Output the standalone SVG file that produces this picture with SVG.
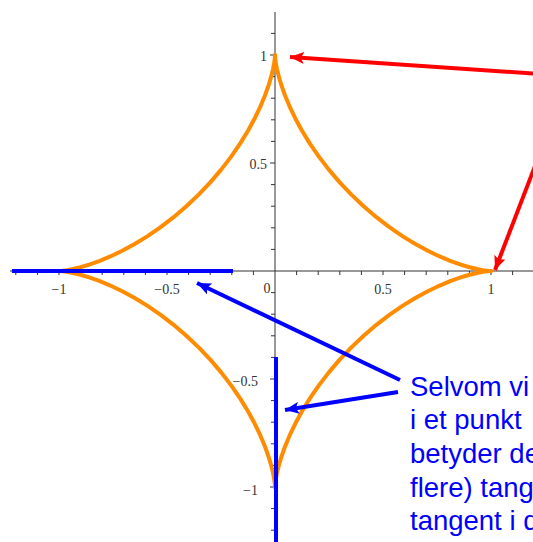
<svg xmlns="http://www.w3.org/2000/svg" width="533" height="542" viewBox="0 0 533 542">
<style>
.axis{stroke:#333;stroke-width:1;fill:none}
.tick{stroke:#333;stroke-width:1}
.lbl{font-family:"Liberation Serif","Times New Roman",serif;font-size:14px;fill:#333}
.curve{stroke:#FF8C00;stroke-width:4;fill:none;stroke-linejoin:round;stroke-linecap:round}
.blue{stroke:#0000FF;stroke-width:4;fill:none}
.red{stroke:#FF0000;stroke-width:4;fill:none}
.note{font-family:"Liberation Sans",Arial,sans-serif;font-size:27.5px;fill:#0000FF}
</style>
<defs>
<marker id="ahRed" markerUnits="userSpaceOnUse" markerWidth="16" markerHeight="12" refX="14" refY="6" orient="auto">
<path d="M0,0 L14,6 L0,12 L3,6 Z" fill="#FF0000"/>
</marker>
<marker id="ahBlue" markerUnits="userSpaceOnUse" markerWidth="16" markerHeight="12" refX="14" refY="6" orient="auto">
<path d="M0,0 L14,6 L0,12 L3,6 Z" fill="#0000FF"/>
</marker>
<path id="arc" class="curve" d="M216,0 L215.11,-0.03 L212.47,-0.25 L208.12,-0.83 L202.15,-1.94 L194.66,-3.75 L185.81,-6.37 L175.76,-9.94 L164.68,-14.53 L152.79,-20.21 L140.3,-27 L127.42,-34.9 L114.37,-43.86 L101.38,-53.83 L88.65,-64.71 L76.37,-76.37 L64.71,-88.65 L53.83,-101.38 L43.86,-114.37 L34.9,-127.42 L27,-140.3 L20.21,-152.79 L14.53,-164.68 L9.94,-175.76 L6.37,-185.81 L3.75,-194.66 L1.94,-202.15 L0.83,-208.12 L0.25,-212.47 L0.03,-215.11 L0,-216"/>
</defs>
<rect width="533" height="542" fill="#fff"/>
<g id="axes">
<line class="axis" x1="10" y1="271" x2="533" y2="271"/>
<line class="axis" x1="275" y1="12" x2="275" y2="542"/>
<path class="tick" d="M15.8,271v4 M37.4,271v4 M59,271v4 M80.6,271v4 M102.2,271v4 M123.8,271v4 M145.4,271v4 M167,271v4 M188.6,271v4 M210.2,271v4 M231.8,271v4 M253.4,271v4 M296.6,271v4 M318.2,271v4 M339.8,271v4 M361.4,271v4 M383,271v4 M404.6,271v4 M426.2,271v4 M447.8,271v4 M469.4,271v4 M491,271v4 M512.6,271v4"/>
<path class="tick" d="M275,33.4h-4 M275,55h-5 M275,76.6h-4 M275,98.2h-4 M275,119.8h-4 M275,141.4h-4 M275,163h-5 M275,184.6h-4 M275,206.2h-4 M275,227.8h-4 M275,249.4h-4 M275,292.6h-4 M275,314.2h-4 M275,335.8h-4 M275,357.4h-4 M275,379h-5 M275,400.6h-4 M275,422.2h-4 M275,443.8h-4 M275,465.4h-4 M275,487h-5 M275,508.6h-4 M275,530.2h-4"/>
<text class="lbl" x="59" y="294" text-anchor="middle">−1</text>
<text class="lbl" x="167" y="294" text-anchor="middle">−0.5</text>
<text class="lbl" x="267" y="293" text-anchor="middle">0</text>
<text class="lbl" x="383" y="294" text-anchor="middle">0.5</text>
<text class="lbl" x="491" y="294" text-anchor="middle">1</text>
<text class="lbl" x="267" y="61" text-anchor="end">1</text>
<text class="lbl" x="267" y="169" text-anchor="end">0.5</text>
<text class="lbl" x="258" y="386" text-anchor="end">−0.5</text>
<text class="lbl" x="258" y="495" text-anchor="end">−1</text>
</g>
<g id="astroid" transform="translate(275,271)">
<use href="#arc"/>
<use href="#arc" transform="scale(-1,1)"/>
<use href="#arc" transform="scale(1,-1)"/>
<use href="#arc" transform="scale(-1,-1)"/>
</g>
<g id="tangents">
<line class="blue" x1="12" y1="271" x2="233" y2="271" stroke-width="5"/>
<line class="blue" x1="276" y1="357" x2="276" y2="542" stroke-width="5"/>
</g>
<g id="connectors">
<line class="red" x1="540" y1="74" x2="290" y2="57" marker-end="url(#ahRed)"/>
<line class="red" x1="540" y1="153" x2="495" y2="270" marker-end="url(#ahRed)"/>
<line class="blue" x1="400" y1="380" x2="197" y2="283" marker-end="url(#ahBlue)"/>
<line class="blue" x1="398" y1="392" x2="285" y2="410" marker-end="url(#ahBlue)"/>
</g>
<g id="note">
<text class="note" x="410" y="396">Selvom vi</text>
<text class="note" x="410" y="429">i et punkt</text>
<text class="note" x="410" y="463">betyder de</text>
<text class="note" x="410" y="497">flere) tang</text>
<text class="note" x="410" y="530">tangent i d</text>
</g>
</svg>
